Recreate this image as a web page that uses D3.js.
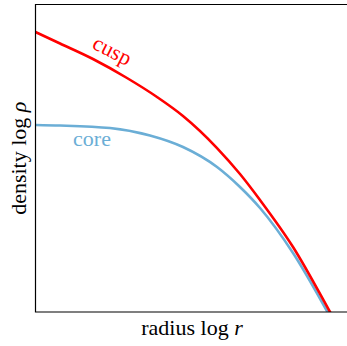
<!DOCTYPE html>
<html>
<head>
<meta charset="utf-8">
<script src="https://cdn.jsdelivr.net/npm/d3@7"></script>
<style>
  body { margin: 0; background: #fff; }
</style>
</head>
<body>
<div class="canvas"></div>
<script>
// log r and log rho in arbitrary units
let cuspLogR   = [-3, -2.685, -2.262, -1.825, -1.44, -1.106, -0.669, -0.374, -0.117, 0.307, 0.782, 0.91];
let cuspLogRho = [-0.358, -0.507, -0.709, -0.956, -1.203, -1.45, -1.867, -2.205, -2.543, -3.154, -4.0, -4.234];

let coreLogR   = [-3, -2.685, -2.043, -1.53, -1.106, -0.669, -0.374, -0.117, 0.307, 0.743, 0.872];
let coreLogRho = [-1.567, -1.574, -1.607, -1.704, -1.854, -2.114, -2.374, -2.647, -3.233, -3.987, -4.221];

let SERIF = "Liberation Serif"

var svg = d3.select(".canvas").append("svg").attr("width", 347).attr("height", 346)

let margin = { left: 35.5, top: 4.5, right: 347, bottom: 312 }

let x = d3.scaleLinear().domain([-3, 1]).range([margin.left, margin.right])
let y = d3.scaleLinear().domain([-4, 0]).range([margin.bottom, margin.top])

svg.append("clipPath").attr("id", "clip")
    .append("rect")
    .attr("x", margin.left).attr("y", margin.top)
    .attr("width", margin.right - margin.left)
    .attr("height", margin.bottom - margin.top)

let line = d3.line()
    .x(d => x(d[0]))
    .y(d => y(d[1]))
    .curve(d3.curveMonotoneX)

// core first, cusp on top
svg.append("path")
    .datum(d3.zip(coreLogR, coreLogRho))
    .attr("d", line)
    .attr("fill", "none")
    .attr("stroke", "#6baed6")
    .attr("stroke-width", 2.6)
    .attr("clip-path", "url(#clip)")

svg.append("path")
    .datum(d3.zip(cuspLogR, cuspLogRho))
    .attr("d", line)
    .attr("fill", "none")
    .attr("stroke", "#ff0000")
    .attr("stroke-width", 2.6)
    .attr("clip-path", "url(#clip)")

// frame: left, bottom, top
svg.append("path")
    .attr("d", "M" + margin.right + "," + margin.top + "H" + margin.left + "V" + margin.bottom + "H" + margin.right)
    .attr("fill", "none")
    .attr("stroke", "#000")
    .attr("stroke-width", 1.2)

// curve labels
svg.append("text")
    .text("cusp")
    .attr("transform", "translate(" + x(-2.056) + "," + y(-0.683) + ") rotate(27)")
    .attr("text-anchor", "middle")
    .attr("font-family", SERIF)
    .attr("font-size", 22)
    .attr("fill", "#ff0000")

svg.append("text")
    .text("core")
    .attr("x", x(-2.274))
    .attr("y", y(-1.841))
    .attr("text-anchor", "middle")
    .attr("font-family", SERIF)
    .attr("font-size", 22)
    .attr("fill", "#6baed6")

// axis labels
let xl = svg.append("text")
    .attr("x", 192)
    .attr("y", 335)
    .attr("text-anchor", "middle")
    .attr("font-family", SERIF)
    .attr("font-size", 22)
xl.append("tspan").text("radius log ")
xl.append("tspan").text("r").attr("font-style", "italic")

let yl = svg.append("text")
    .attr("transform", "translate(26," + (margin.top + margin.bottom) / 2 + ") rotate(-90)")
    .attr("text-anchor", "middle")
    .attr("font-family", SERIF)
    .attr("font-size", 22)
yl.append("tspan").text("density log ")
yl.append("tspan").text("ρ").attr("font-style", "italic")
</script>
</body>
</html>
